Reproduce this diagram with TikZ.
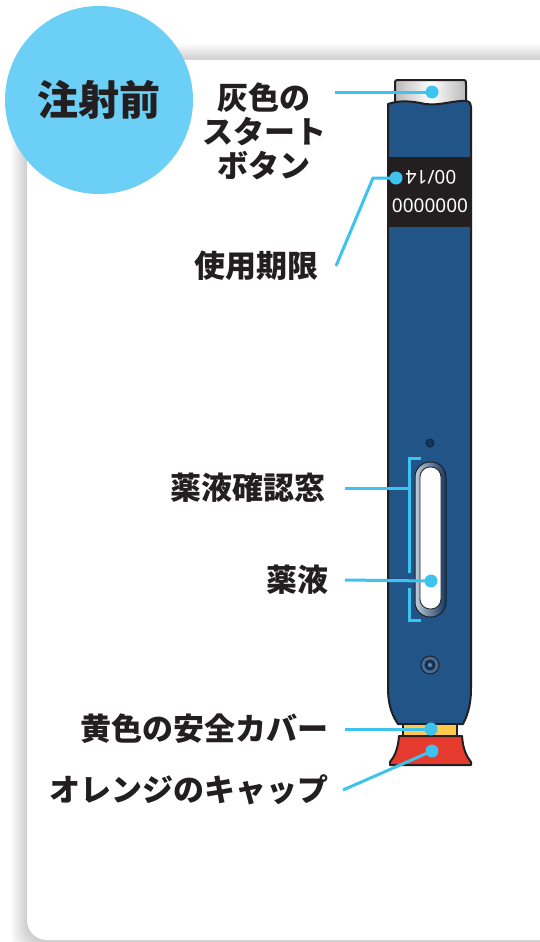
\documentclass[tikz,border=0pt]{standalone}
\usepackage{fontspec}
\setmainfont{Noto Sans CJK JP}
\newfontfamily\pennum{Noto Sans}
\usetikzlibrary{positioning}

\definecolor{ink}{HTML}{231F20}
\definecolor{badge}{HTML}{6CCFF6}
\definecolor{leadcyan}{HTML}{3EC3EF}
\definecolor{penblue}{HTML}{215587}
\definecolor{pendark}{HTML}{14365F}
\definecolor{capred}{HTML}{E53B2F}
\definecolor{coveryellow}{HTML}{FFC94B}

\begin{document}
\begin{tikzpicture}[x=1pt,y=-1pt,
  lbl/.style={font=\bfseries\fontsize{31}{34}\selectfont, text=ink, align=center, inner sep=0pt},
  lead/.style={leadcyan, line width=3pt},
  pin/.style={circle, fill=leadcyan, inner sep=0pt, minimum size=13pt},
  outline/.style={draw=ink, line width=2pt, line join=round}]

  \useasboundingbox (0,0) rectangle (539,942);
  \fill[white] (0,0) rectangle (539,942);

  % card with a soft shadow
  \foreach \s in {1,...,16}
    \fill[black, opacity=0.012, rounded corners=22pt] (27-\s,60-\s) rectangle (560,942+\s);
  \fill[white, rounded corners=20pt] (27,60) rectangle (560,940);

  % badge
  \node[circle, fill=badge, minimum size=188pt, inner sep=0pt] (badge) at (99,100) {};
  \node[font=\bfseries\fontsize{41}{41}\selectfont, text=ink] (title) at (badge.center) {注射前};

  % pen: grey start button
  \draw[outline, left color=gray!55, right color=gray!55, middle color=white]
    (395,106) -- (395,85) .. controls (395,80) .. (400,80) -- (461,80)
    .. controls (466,80) .. (466,85) -- (466,106);

  % pen body
  \fill[penblue] (388,104) .. controls (400,100) and (412,101) .. (425,104)
    .. controls (440,106) and (455,100) .. (466,101) .. controls (470,102) .. (471,107)
    -- (471,688) .. controls (471,708) and (466,718) .. (463,724) -- (398,724)
    .. controls (394,718) and (388,708) .. (388,688) -- cycle;
  \fill[ink] (388,157) rectangle (471,227);
  \draw[outline] (388,104) .. controls (400,100) and (412,101) .. (425,104)
    .. controls (440,106) and (455,100) .. (466,101) .. controls (470,102) .. (471,107)
    -- (471,688) .. controls (471,708) and (466,718) .. (463,724) -- (398,724)
    .. controls (394,718) and (388,708) .. (388,688) -- cycle;

  % printed label
  \node[text=white, font=\pennum\fontsize{19}{19}\selectfont, rotate=180] (dose) at (431,177) {00/14};
  \node[text=white, font=\pennum\fontsize{19}{19}\selectfont] (lot) at (430,206) {0000000};

  % window, small dot and ring button
  \draw[ink, line width=1pt, rounded corners=15pt, left color=penblue!30, right color=pendark]
    (415,462) rectangle (446,617);
  \draw[ink, line width=0.8pt, rounded corners=10pt, fill=white] (420,467) rectangle (441,609);
  \draw[pendark!70!black, line width=1pt, fill=pendark] (430,443) circle (4pt);
  \draw[ink, line width=1pt, fill=penblue!85!white] (430,665) circle (9pt);
  \draw[ink, line width=0.8pt, fill=pendark] (430,665) circle (5pt);
  \fill[penblue!70!white] (430,665) circle (2pt);

  % safety cover and cap
  \draw[outline, fill=coveryellow] (403,724) rectangle (457,736);
  \draw[outline, fill=capred] (399,736) -- (462,736) .. controls (463,750) and (467,757) .. (471,762)
    -- (471,765) -- (390,765) -- (390,762) .. controls (394,757) and (398,750) .. cycle;

  % bracket along the window
  \draw[lead] (421,458) -| (409,573);
  \draw[lead] (409,588) |- (421,620);

  % pins
  \node[pin] (btnpin) at (432,92) {};
  \node[pin] (exppin) at (396,178) {};
  \node[pin] (liqpin) at (431,581) {};
  \node[pin] (covpin) at (431,729) {};
  \node[pin] (cappin) at (432,751) {};
  \coordinate (winpin) at (409,488);

  % leader starts
  \coordinate (btnlead) at (335,92);
  \coordinate (explead) at (336,266);
  \coordinate (expbend) at (373,178);
  \coordinate (winlead) at (345,488);
  \coordinate (liqlead) at (345,580);
  \coordinate (covlead) at (345,729);
  \coordinate (caplead) at (343,790);

  % labels
  \node[lbl] (btnlbl) at (264,131) {灰色の\\スタート\\ボタン};
  \node[lbl, left=17pt of explead] (explbl) {使用期限};
  \node[lbl, left=19pt of winlead] (winlbl) {薬液確認窓};
  \node[lbl, left=16pt of liqlead] (liqlbl) {薬液};
  \node[lbl, left=16pt of covlead] (covlbl) {黄色の安全カバー};
  \node[lbl, left=14pt of caplead] (caplbl) {オレンジのキャップ};

  % leaders
  \draw[lead] (btnlead) -- (btnpin.center);
  \draw[lead] (explead) -- (expbend) -- (exppin.center);
  \draw[lead] (winlead) -- (winpin);
  \draw[lead] (liqlead) -- (liqpin.center);
  \draw[lead] (covlead) -- (covpin.center);
  \draw[lead] (caplead) -- (cappin.center);
\end{tikzpicture}
\end{document}
